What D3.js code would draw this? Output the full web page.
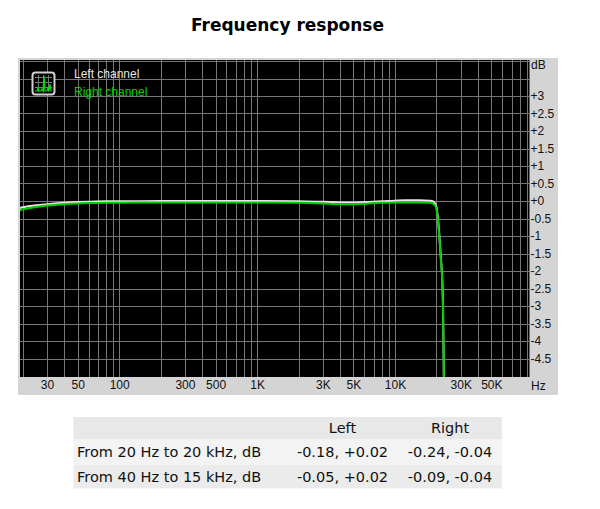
<!DOCTYPE html>
<html><head><meta charset="utf-8">
<script src="https://cdn.jsdelivr.net/npm/d3@7"></script>
<style>
body{margin:0;background:#fff;}
svg{display:block;}
</style></head>
<body>
<svg id="chart" width="600" height="509"></svg>
<script>
const title = "Frequency response";
const freqs = [19, 20, 25, 30, 40, 50, 60, 80, 100, 200, 500, 1000, 2000, 3000, 4000, 5000, 6000, 7000, 8000, 10000, 12000, 15000, 18000, 19000, 19500, 20000, 20500, 21000, 21500, 22000, 22300, 22700];
const leftDb  = [-0.20, -0.18, -0.12, -0.09, -0.05, -0.03, -0.02, -0.01, -0.01, 0.00, 0.00, 0.00, -0.01, -0.02, -0.04, -0.04, -0.03, -0.02, -0.01, 0.01, 0.02, 0.02, 0.01, -0.02, -0.07, -0.18, -0.50, -1.00, -1.60, -2.20, -3.00, -5.50];
const rightDb = [-0.27, -0.24, -0.17, -0.13, -0.09, -0.07, -0.06, -0.05, -0.05, -0.04, -0.04, -0.04, -0.05, -0.07, -0.09, -0.09, -0.08, -0.06, -0.05, -0.04, -0.04, -0.04, -0.05, -0.08, -0.13, -0.24, -0.56, -1.06, -1.66, -2.26, -3.06, -5.56];
const xTickValues = [30, 50, 100, 300, 500, 1000, 3000, 5000, 10000, 30000, 50000];
const xTickLabels = ["30", "50", "100", "300", "500", "1K", "3K", "5K", "10K", "30K", "50K"];
const yTickValues = [3, 2.5, 2, 1.5, 1, 0.5, 0, -0.5, -1, -1.5, -2, -2.5, -3, -3.5, -4, -4.5];
const yTickLabels = ["+3", "+2.5", "+2", "+1.5", "+1", "+0.5", "+0", "-0.5", "-1", "-1.5", "-2", "-2.5", "-3", "-3.5", "-4", "-4.5"];
const legendNames = ["Left channel", "Right channel"];
const tableHeader = ["", "Left", "Right"];
const tableRowLabels = ["From 20 Hz to 20 kHz, dB", "From 40 Hz to 15 kHz, dB"];
const tableLeft = ["-0.18, +0.02", "-0.05, +0.02"];
const tableRight = ["-0.24, -0.04", "-0.09, -0.04"];

const svg = d3.select("#chart");
const P = {x0: 20, x1: 529.5, y0: 60, y1: 377};

const x = d3.scaleLog().domain([19.1, 94500]).range([P.x0, P.x1]);
const y = d3.scaleLinear().domain([-5, 4]).range([376, 61]);

// title
svg.append("text").attr("x", 287.5).attr("y", 31)
  .attr("text-anchor", "middle").attr("font-family", "DejaVu Sans, Verdana, sans-serif")
  .attr("font-weight", "bold").attr("font-size", 17).attr("fill", "#000").text(title);

// panel
svg.append("rect").attr("x", 18).attr("y", 58).attr("width", 540).attr("height", 337).attr("fill", "#d4d4d4");
svg.append("rect").attr("x", P.x0).attr("y", P.y0).attr("width", P.x1 - P.x0).attr("height", P.y1 - P.y0).attr("fill", "#000");

const clip = svg.append("clipPath").attr("id", "clip").append("rect")
  .attr("x", P.x0).attr("y", P.y0).attr("width", P.x1 - P.x0).attr("height", P.y1 - P.y0);
const plot = svg.append("g").attr("clip-path", "url(#clip)");

// grid
const vgrid = [];
[10, 100, 1000, 10000].forEach(d => { for (let k = 1; k < 10; k++) vgrid.push(d * k); });
vgrid.push(100000);
plot.selectAll("line.vg").data(vgrid.filter(f => f >= 19.1 && f <= 94500)).enter().append("line")
  .attr("x1", d => Math.round(x(d)) + 0.5).attr("x2", d => Math.round(x(d)) + 0.5)
  .attr("y1", P.y0).attr("y2", P.y1).attr("stroke", "#777").attr("stroke-width", 1);
const hgrid = d3.range(-4.5, 4.01, 0.5);
plot.selectAll("line.hg").data(hgrid).enter().append("line")
  .attr("x1", P.x0).attr("x2", P.x1)
  .attr("y1", d => Math.round(y(d)) + 0.5).attr("y2", d => Math.round(y(d)) + 0.5)
  .attr("stroke", "#777").attr("stroke-width", 1);

// curves
const line = vals => d3.line().x((d, i) => x(freqs[i])).y(d => y(d)).curve(d3.curveMonotoneX)(vals);
plot.append("path").attr("d", line(leftDb)).attr("fill", "none").attr("stroke", "#e6e6e6").attr("stroke-width", 2);
plot.append("path").attr("d", line(rightDb)).attr("fill", "none").attr("stroke", "#00d000").attr("stroke-width", 2);

// legend icon
const ic = svg.append("g");
ic.append("rect").attr("x", 32.5).attr("y", 72.5).attr("width", 22).attr("height", 22).attr("rx", 3)
  .attr("fill", "#000").attr("stroke", "#d0d0d0").attr("stroke-width", 2);
[38, 43, 48].forEach(v => {
  ic.append("line").attr("x1", v + .5).attr("x2", v + .5).attr("y1", 75).attr("y2", 92).attr("stroke", "#777");
  ic.append("line").attr("x1", 35).attr("x2", 52).attr("y1", v + 39.5).attr("y2", v + 39.5).attr("stroke", "#777");
});
ic.append("path").attr("d", "M35,91 L37,91 L38,88 L39,91 L41,91 L42,89 L43,91 L44,76 L45,91 L47,91 L48,88 L49,91 L50,84 L51,91 L52,91")
  .attr("fill", "none").attr("stroke", "#00e000").attr("stroke-width", 1.2);

const lf = "Liberation Sans, Arial, sans-serif";
svg.selectAll("text.leg").data(legendNames).enter().append("text")
  .attr("x", 74).attr("y", (d, i) => 78 + i * 17.5)
  .attr("font-family", lf).attr("font-size", 12)
  .attr("fill", (d, i) => i === 0 ? "#e6e6e6" : "#00d000").text(d => d);

// axes labels
const xAxis = d3.axisBottom(x).tickValues(xTickValues).tickFormat((d, i) => xTickLabels[i]).tickSize(0).tickPadding(3);
const gx = svg.append("g").attr("transform", `translate(0,${P.y1})`).call(xAxis);
gx.select(".domain").remove();
gx.selectAll("text").attr("font-family", lf).attr("font-size", 12).attr("fill", "#111");
svg.append("text").attr("x", 531).attr("y", 390).attr("font-family", lf).attr("font-size", 12).attr("fill", "#111").text("Hz");

const yAxis = d3.axisRight(y).tickValues(yTickValues).tickFormat((d, i) => yTickLabels[i]).tickSize(0).tickPadding(1);
const gy = svg.append("g").attr("transform", `translate(${P.x1},0)`).call(yAxis);
gy.select(".domain").remove();
gy.selectAll("text").attr("font-family", lf).attr("font-size", 12).attr("fill", "#111");
svg.append("text").attr("x", 531).attr("y", 69).attr("font-family", lf).attr("font-size", 12).attr("fill", "#111").text("dB");

// table
const tf = "DejaVu Sans, Verdana, sans-serif";
const rowsY = [417, 439.5, 465, 488.5];
const rowFills = ["#e8e8e8", "#f3f3f3", "#ebebeb"];
const colX = [77, 342.5, 450];
rowFills.forEach((c, i) => {
  svg.append("rect").attr("x", 73.5).attr("y", rowsY[i]).attr("width", 428.5).attr("height", rowsY[i + 1] - rowsY[i]).attr("fill", c);
});
const tRows = [tableHeader,
  [tableRowLabels[0], tableLeft[0], tableRight[0]],
  [tableRowLabels[1], tableLeft[1], tableRight[1]]];
tRows.forEach((r, i) => {
  const cy = (rowsY[i] + rowsY[i + 1]) / 2 + 5;
  r.forEach((t, j) => {
    svg.append("text").attr("x", colX[j]).attr("y", cy)
      .attr("text-anchor", j === 0 ? "start" : "middle")
      .attr("font-family", tf).attr("font-size", 14.5).attr("fill", "#111").text(t);
  });
});
</script>
</body></html>
